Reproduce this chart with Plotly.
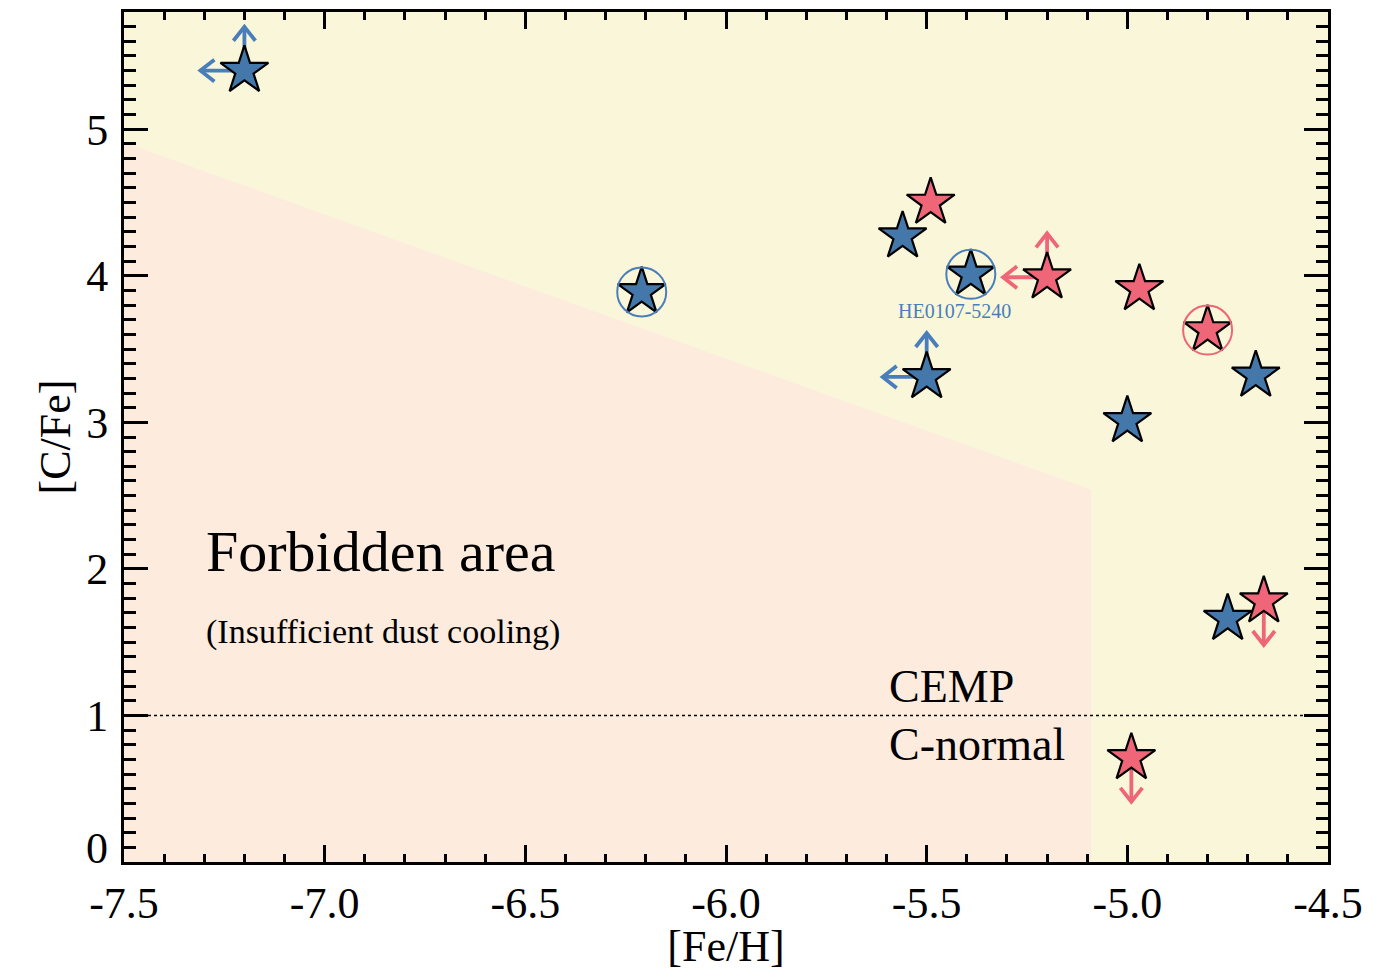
import plotly.graph_objects as go

# ---- data ----
blue_feh = [-7.20, -6.21, -5.56, -5.39, -5.50, -5.00, -4.68, -4.75]
blue_cfe = [5.40, 3.89, 4.27, 4.01, 3.31, 3.01, 3.32, 1.66]
blue_fe_upper = [True, False, False, False, True, False, False, False]
blue_c_limit = ["up", None, None, None, "up", None, None, None]
blue_circled = [False, True, False, True, False, False, False, False]

red_feh = [-5.49, -5.20, -4.97, -4.80, -4.66, -4.99]
red_cfe = [4.50, 3.99, 3.91, 3.63, 1.78, 0.71]
red_fe_upper = [False, True, False, False, False, False]
red_c_limit = [None, "up", None, None, "down", "down"]
red_circled = [False, False, False, True, False, False]

# boundary of the forbidden area (insufficient dust cooling)
forbidden_x = [-7.5, -5.09, -5.09, -7.5]
forbidden_y = [4.91, 2.54, 0.0, 0.0]

cemp_threshold = 1.0
label_star = "HE0107-5240"

x_ticks = [-7.5, -7.0, -6.5, -6.0, -5.5, -5.0, -4.5]
x_ticktext = ["-7.5", "-7.0", "-6.5", "-6.0", "-5.5", "-5.0", "-4.5"]
y_ticks = [0, 1, 2, 3, 4, 5]
y_ticktext = ["", "1", "2", "3", "4", "5"]   # "0" is placed by hand, raised like the original

# ---- layout settings (page body adds 8 px around the figure) ----
W, H = 1374, 963
ml, mr, mt, mb = 116, 54, 1, 109
x_range = [-7.5, -4.5]
y_range = [0.0, 5.8]

BLUE = "#4477AA"
BLUE_L = "#4A7EBA"
RED = "#EE6677"
YELLOW = "#F9F6DA"
PINK = "#FDEBDE"
FONT = "Liberation Serif"

# data units per pixel, used to size the limit arrows
xpp = (x_range[1] - x_range[0]) / (W - ml - mr)
ypp = (y_range[1] - y_range[0]) / (H - mt - mb)
arr_len, wing_w, wing_b = 44, 11, 14


def limit_arrows(xs, ys, fe_upper, c_limit):
    ax, ay = [], []
    for x, y, fu, cl in zip(xs, ys, fe_upper, c_limit):
        if fu:
            xt = x - arr_len * xpp
            ax += [x, xt, None, xt + wing_b * xpp, xt, xt + wing_b * xpp, None]
            ay += [y, y, None, y + wing_w * ypp, y, y - wing_w * ypp, None]
        if cl:
            s = 1 if cl == "up" else -1
            yt = y + s * arr_len * ypp
            ax += [x, x, None, x - wing_w * xpp, x, x + wing_w * xpp, None]
            ay += [y, yt, None, yt - s * wing_b * ypp, yt, yt - s * wing_b * ypp, None]
    return ax, ay


fig = go.Figure()

fig.add_trace(go.Scatter(x=forbidden_x, y=forbidden_y, fill="toself", fillcolor=PINK,
                         mode="none", hoverinfo="skip"))

fig.add_trace(go.Scatter(x=x_range, y=[cemp_threshold] * 2, mode="lines",
                         line=dict(color="black", width=1.5, dash="dot")))

for xs, ys, fu, cl, col in [(blue_feh, blue_cfe, blue_fe_upper, blue_c_limit, BLUE_L),
                            (red_feh, red_cfe, red_fe_upper, red_c_limit, RED)]:
    ax, ay = limit_arrows(xs, ys, fu, cl)
    fig.add_trace(go.Scatter(x=ax, y=ay, mode="lines", line=dict(color=col, width=3.8)))

for xs, ys, col in [(blue_feh, blue_cfe, BLUE), (red_feh, red_cfe, RED)]:
    fig.add_trace(go.Scatter(x=xs, y=ys, mode="markers",
                             marker=dict(symbol="star", size=36, color=col,
                                         line=dict(color="black", width=2.2))))

for xs, ys, circ, col in [(blue_feh, blue_cfe, blue_circled, BLUE_L),
                          (red_feh, red_cfe, red_circled, RED)]:
    cx = [x for x, c in zip(xs, circ) if c]
    cy = [y for y, c in zip(ys, circ) if c]
    fig.add_trace(go.Scatter(x=cx, y=cy, mode="markers",
                             marker=dict(symbol="circle-open", size=49, color=col,
                                         line=dict(color=col, width=2))))

# text labels
fig.add_annotation(x=-7.3, y=2.12, text="Forbidden area", showarrow=False, xanchor="left",
                   font=dict(family=FONT, size=58, color="black"))
fig.add_annotation(x=-7.3, y=1.57, text="(Insufficient dust cooling)", showarrow=False,
                   xanchor="left", font=dict(family=FONT, size=34, color="black"))
fig.add_annotation(x=-5.6, y=1.20, text="CEMP", showarrow=False, xanchor="left",
                   font=dict(family=FONT, size=46, color="black"))
fig.add_annotation(x=-5.6, y=0.80, text="C-normal", showarrow=False, xanchor="left",
                   font=dict(family=FONT, size=46, color="black"))
fig.add_annotation(x=blue_feh[3], y=blue_cfe[3], text=label_star, showarrow=False,
                   xshift=-16, yshift=-37, font=dict(family=FONT, size=20, color=BLUE_L))
fig.add_annotation(x=0, xref="paper", y=y_ticks[0], text="0", showarrow=False,
                   xanchor="right", xshift=-14, yshift=14,
                   font=dict(family=FONT, size=44, color="black"))

axis_common = dict(showline=True, linecolor="black", linewidth=3, mirror="allticks",
                   ticks="inside", tickcolor="black", tickwidth=2.5,
                   showgrid=False, zeroline=False,
                   tickfont=dict(family=FONT, size=44, color="black"))

fig.update_xaxes(range=x_range, tickvals=x_ticks, ticktext=x_ticktext, ticklen=17,
                 minor=dict(dtick=0.1, ticks="inside", ticklen=8, tickwidth=2.5,
                            tickcolor="black", showgrid=False),
                 title=dict(text="[Fe/H]", font=dict(family=FONT, size=44, color="black"),
                            standoff=6),
                 **axis_common)
fig.update_yaxes(range=y_range, tickvals=y_ticks, ticktext=y_ticktext, ticklen=24,
                 ticklabelstandoff=4,
                 minor=dict(dtick=0.1, ticks="inside", ticklen=12, tickwidth=2.5,
                            tickcolor="black", showgrid=False),
                 title=dict(text="[C/Fe]", font=dict(family=FONT, size=44, color="black"),
                            standoff=2),
                 **axis_common)

fig.update_layout(width=W, height=H, margin=dict(l=ml, r=mr, t=mt, b=mb),
                  plot_bgcolor=YELLOW, paper_bgcolor="white", showlegend=False)

fig.write_html("out.html")
